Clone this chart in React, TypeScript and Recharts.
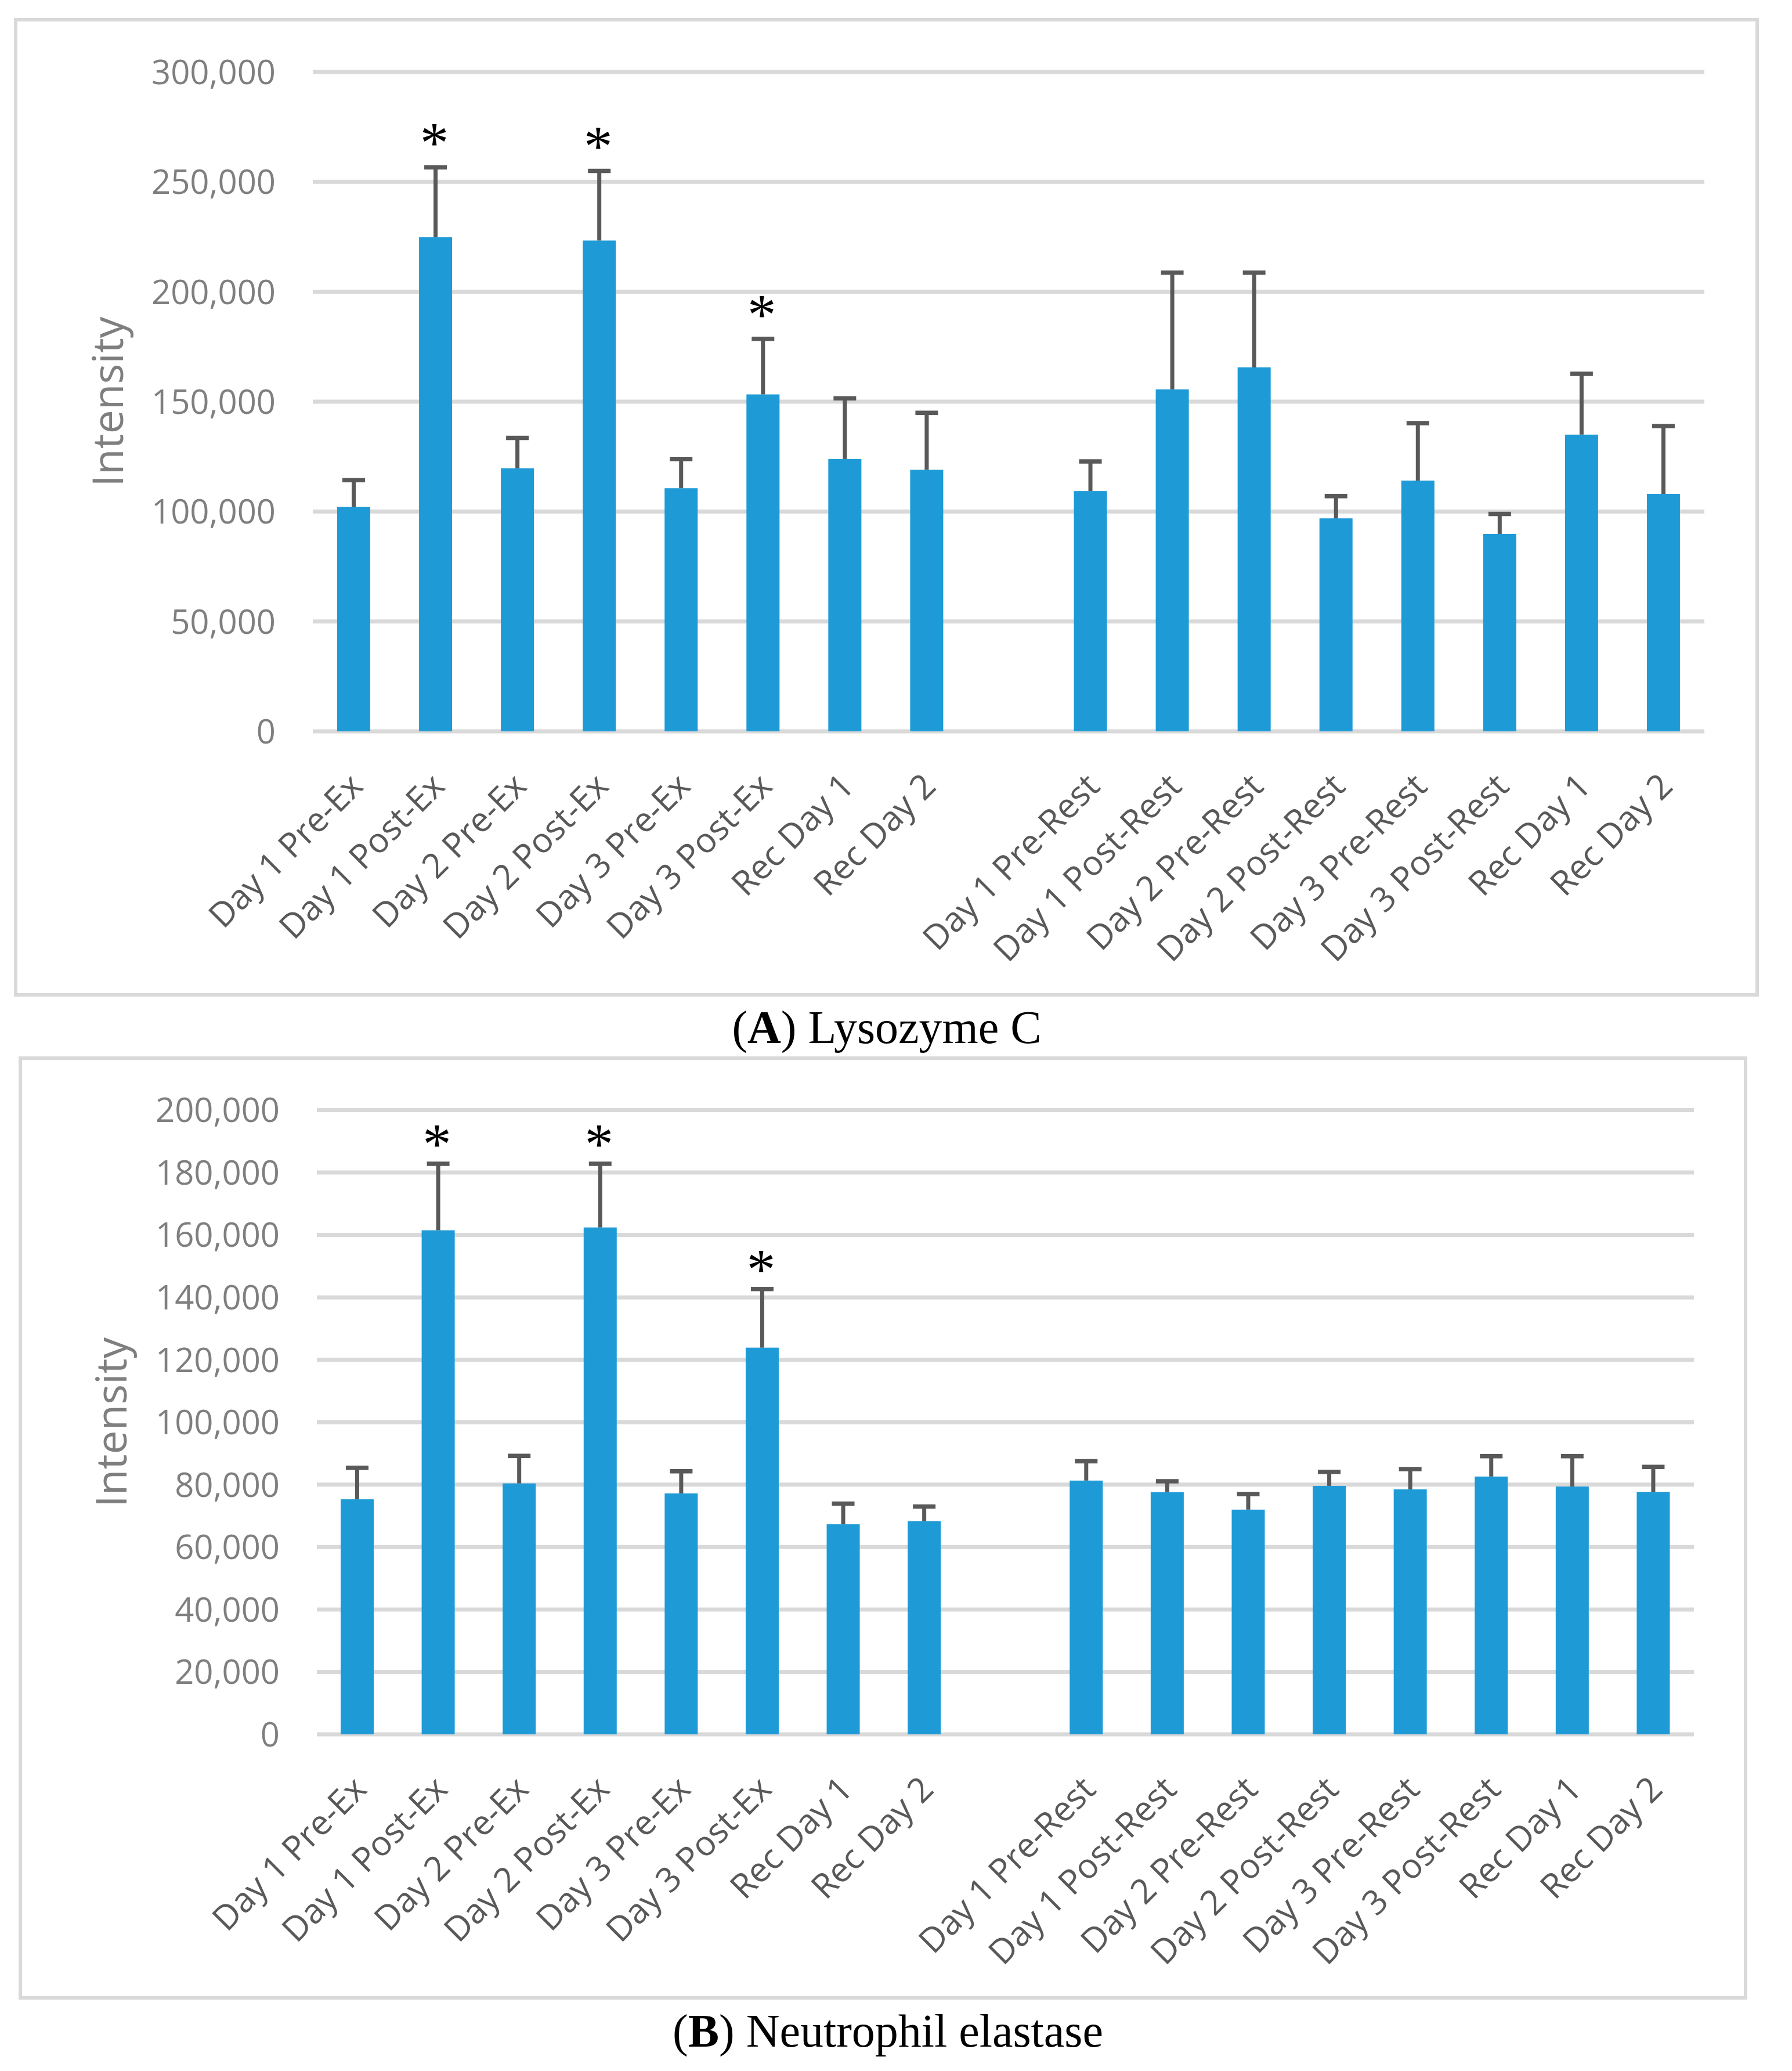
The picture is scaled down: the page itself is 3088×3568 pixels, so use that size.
import React from "react";
import { BarChart, Bar, XAxis, YAxis, CartesianGrid } from "recharts";

// category labels (same order in both panels)
const exLabels = [
  "Day 1 Pre-Ex", "Day 1 Post-Ex", "Day 2 Pre-Ex", "Day 2 Post-Ex",
  "Day 3 Pre-Ex", "Day 3 Post-Ex", "Rec Day 1", "Rec Day 2",
];
const restLabels = [
  "Day 1 Pre-Rest", "Day 1 Post-Rest", "Day 2 Pre-Rest", "Day 2 Post-Rest",
  "Day 3 Pre-Rest", "Day 3 Post-Rest", "Rec Day 1", "Rec Day 2",
];

// (A) Lysozyme C – means and upper error (SD)
const lysoExMean = [102200, 224900, 119700, 223300, 110600, 153300, 123900, 119000];
const lysoExSd = [12100, 31700, 13800, 31700, 13300, 25300, 27600, 25900];
const lysoRestMean = [109300, 155600, 165600, 96900, 114100, 89800, 135000, 108000];
const lysoRestSd = [13500, 53100, 43100, 10100, 26100, 9100, 27700, 30900];

// (B) Neutrophil elastase
const elasExMean = [75300, 161500, 80400, 162400, 77200, 123900, 67300, 68300];
const elasExSd = [10100, 21300, 8800, 20400, 7100, 18800, 6600, 4700];
const elasRestMean = [81300, 77600, 72000, 79600, 78500, 82600, 79400, 77700];
const elasRestSd = [6200, 3500, 5000, 4500, 6500, 6500, 9700, 8000];

// exercise bars marked with *
const sigEx = [1, 3, 5];

const lysoTicks = [0, 50000, 100000, 150000, 200000, 250000, 300000];
const elasTicks = [0, 20000, 40000, 60000, 80000, 100000, 120000, 140000, 160000, 180000, 200000];

const BAR = "#1e9bd7";
const GRID = "#d9d9d9";
const WHISKER = "#595959";
const SANS = "'Open Sans', 'Noto Sans', sans-serif";
const SERIF = "'Liberation Serif', 'Times New Roman', serif";

type Row = { key: string; label: string; mean: number | null; sd: number | null; sig: boolean };

const buildRows = (exMean: number[], exSd: number[], restMean: number[], restSd: number[]): Row[] => [
  ...exLabels.map((label, i) => ({ key: `ex${i}`, label, mean: exMean[i], sd: exSd[i], sig: sigEx.includes(i) })),
  { key: "gap", label: "", mean: null, sd: null, sig: false },
  ...restLabels.map((label, i) => ({ key: `rest${i}`, label, mean: restMean[i], sd: restSd[i], sig: false })),
];

const lysoRows = buildRows(lysoExMean, lysoExSd, lysoRestMean, lysoRestSd);
const elasRows = buildRows(elasExMean, elasExSd, elasRestMean, elasRestSd);

// bar + upper whisker + optional asterisk, all from the bar geometry recharts gives us
const BarWithError = (props: any) => {
  const { x, y, width, height, payload, starGap } = props;
  if (!payload || payload.mean == null || !height) return <g />;
  const pxPer = height / payload.mean;
  const cx = x + width / 2;
  const top = y - payload.sd * pxPer;
  return (
    <g>
      <rect x={x} y={y} width={width} height={height} fill={BAR} />
      <line x1={cx} x2={cx} y1={y} y2={top} stroke={WHISKER} strokeWidth={7} />
      <line x1={cx - 19.5} x2={cx + 19.5} y1={top} y2={top} stroke={WHISKER} strokeWidth={7.5} />
      {payload.sig && (
        <text x={cx - 2} y={top - starGap + 46} textAnchor="middle" fontFamily={SERIF} fontSize={99} fill="#000">
          *
        </text>
      )}
    </g>
  );
};

const YTick = ({ x, y, payload }: any) => (
  <text x={x - 64} y={y} dy="0.36em" textAnchor="end" fill="#7f7f7f" fontSize={58} fontFamily={SANS}>
    {Number(payload.value).toLocaleString("en-US")}
  </text>
);

const makeXTick = (rows: Row[]) => {
  const labelOf: Record<string, string> = {};
  rows.forEach((r) => (labelOf[r.key] = r.label));
  return ({ x, y, payload }: any) => {
    const ax = x + 4;
    const ay = y + 83;
    return (
      <text x={ax} y={ay} dy="0.36em" textAnchor="end" transform={`rotate(-45 ${ax} ${ay})`}
        fill="#595959" fontSize={59} fontFamily={SANS}>
        {labelOf[payload.value]}
      </text>
    );
  };
};

type PanelProps = {
  rows: Row[];
  ticks: number[];
  top: number;
  height: number;
  margin: { top: number; right: number; left: number; bottom: number };
  yAxisWidth: number;
  xAxisHeight: number;
  titleX: number;
  starGap: number;
};

const Panel = ({ rows, ticks, top, height, margin, yAxisWidth, xAxisHeight, titleX, starGap }: PanelProps) => {
  const plotH = height - margin.top - margin.bottom - xAxisHeight;
  const titleY = margin.top + plotH / 2;
  return (
    <div style={{ position: "absolute", left: 0, top, width: 3088, height }}>
      <BarChart width={3088} height={height} data={rows} margin={margin} barSize={57}>
        <CartesianGrid vertical={false} stroke={GRID} strokeWidth={7} />
        <XAxis dataKey="key" interval={0} axisLine={false} tickLine={false} tickSize={0} tickMargin={0}
          height={xAxisHeight} tick={makeXTick(rows)} />
        <YAxis domain={[0, ticks[ticks.length - 1]]} ticks={ticks} width={yAxisWidth} axisLine={false}
          tickLine={false} tickSize={0} tickMargin={0} tick={<YTick />} interval={0}
          label={{
            value: "Intensity",
            content: () => (
              <text x={titleX} y={titleY} textAnchor="middle" transform={`rotate(-90 ${titleX} ${titleY})`}
                fill="#7f7f7f" fontSize={73} fontFamily={SANS}>
                Intensity
              </text>
            ),
          }} />
        <Bar dataKey="mean" isAnimationActive={false} shape={(p: any) => <BarWithError {...p} starGap={starGap} />} />
      </BarChart>
    </div>
  );
};

const boxStyle = (left: number, top: number, right: number, bottom: number): React.CSSProperties => ({
  position: "absolute",
  left: left - 3,
  top: top - 3,
  width: right - left + 6,
  height: bottom - top + 6,
  border: `6px solid ${GRID}`,
  boxSizing: "border-box",
});

export default function App() {
  return (
    <div style={{ position: "absolute", left: 0, top: 0, width: 3088, height: 3568, background: "#fff" }}>
      <div style={boxStyle(27, 34, 3028, 1714)} />
      <div style={boxStyle(35, 1823, 3008, 3442)} />
      <Panel rows={lysoRows} ticks={lysoTicks} top={0} height={1720}
        margin={{ top: 124, right: 151, left: 0, bottom: 0 }} yAxisWidth={539} xAxisHeight={460}
        titleX={212} starGap={55} />
      <Panel rows={elasRows} ticks={elasTicks} top={1800} height={1650}
        margin={{ top: 112.5, right: 169, left: 0, bottom: 0 }} yAxisWidth={546} xAxisHeight={462}
        titleX={218} starGap={47} />
      <svg width={3088} height={3568} style={{ position: "absolute", left: 0, top: 0, pointerEvents: "none" }}>
        <text x={1528} y={1797} textAnchor="middle" fontFamily={SERIF} fontSize={80} fill="#000">
          (<tspan fontWeight="bold">A</tspan>) Lysozyme C
        </text>
        <text x={1530} y={3526} textAnchor="middle" fontFamily={SERIF} fontSize={80} fill="#000">
          (<tspan fontWeight="bold">B</tspan>) Neutrophil elastase
        </text>
      </svg>
    </div>
  );
}
